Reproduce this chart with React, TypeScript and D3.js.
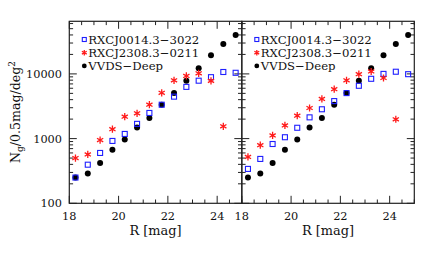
import * as d3 from "d3";

// magnitude bins (bin centres, 0.5 mag wide)
const magBins = [18.25, 18.75, 19.25, 19.75, 20.25, 20.75, 21.25, 21.75, 22.25, 22.75, 23.25, 23.75, 24.25, 24.75];

// VVDS-Deep reference counts (same in both panels)
const vvdsDeep = [250, 290, 420, 670, 970, 1480, 2090, 3350, 5050, 7850, 12200, 19500, 29000, 40000];

// left panel
const rxcj0014Left = [250, 395, 600, 920, 1180, 1690, 2490, 3340, 4450, 6300, 7850, 8900, 10700, 10400];
const rxcj2308Left = [500, 570, 950, 1400, 2180, 2460, 3340, 5100, 7950, 9300, 10200, 7800, 1550];

// right panel
const rxcj0014Right = [340, 485, 825, 1050, 1470, 2130, 2840, 3800, 5050, 6550, 8400, 10000, 10800, 9900];
const rxcj2308Right = [520, 790, 1120, 1600, 2260, 2970, 4100, 5800, 7950, 9900, 10900, 8640, 1990];

const legendLabels = ["RXCJ0014.3\u22123022", "RXCJ2308.3\u22120211", "VVDS\u2212Deep"];
const xTickLabels = [18, 20, 22, 24];
const yTickLabels = [100, 1000, 10000];

const W = 436, H = 258;
const top = 21.3, bottom = 203.3;
const font = "'DejaVu Serif', serif";
const frame = "#222";

const y = d3.scaleLog().domain([100, 65000]).range([bottom, top]);

const yMinor: number[] = [];
[100, 1000, 10000].forEach(dec => {
  for (let k = 1; k <= 9; k++) if (k * dec <= 65000) yMinor.push(k * dec);
});
const xMinor = d3.range(18, 25.01, 0.5);

const starPath = (r: number) => {
  const a = r * Math.cos(Math.PI / 6), b = r * Math.sin(Math.PI / 6);
  return `M0,${-r}L0,${r}M${-a},${-b}L${a},${b}M${-a},${b}L${a},${-b}`;
};

const Square = ({ cx, cy, s }: { cx: number; cy: number; s: number }) => (
  <rect x={cx - s / 2} y={cy - s / 2} width={s} height={s} fill="none" stroke="#1f1fff" strokeWidth={1.1} />
);
const Star = ({ cx, cy, r }: { cx: number; cy: number; r: number }) => (
  <path d={starPath(r)} transform={`translate(${cx},${cy})`} stroke="#ff1a1a" strokeWidth={1.3} fill="none" />
);

const Panel = ({ x0, x1, sq, st, showY }: { x0: number; x1: number; sq: number[]; st: number[]; showY: boolean }) => {
  const x = d3.scaleLinear().domain([18, 25]).range([x0, x1]);
  const isMajorX = (v: number) => Math.abs(v - Math.round(v)) < 1e-6 && Math.round(v) % 2 === 0 && v < 25;
  const isMajorY = (v: number) => yTickLabels.includes(v);
  const lx = x0 + 15, tx = x0 + 19;
  const rows = [39.5, 52.7, 65.9];
  return (
    <g>
      {/* x ticks bottom & top */}
      {xMinor.map(v => {
        const L = isMajorX(v) ? 7.5 : 3.8;
        return (
          <g key={"xt" + v} stroke={frame} strokeWidth={1}>
            <line x1={x(v)} x2={x(v)} y1={bottom} y2={bottom - L} />
            <line x1={x(v)} x2={x(v)} y1={top} y2={top + L} />
          </g>
        );
      })}
      {/* y ticks left & right */}
      {yMinor.map(v => {
        const L = isMajorY(v) ? 7.5 : 3.8;
        return (
          <g key={"yt" + v} stroke={frame} strokeWidth={1}>
            <line x1={x0} x2={x0 + L} y1={y(v)} y2={y(v)} />
            <line x1={x1} x2={x1 - L} y1={y(v)} y2={y(v)} />
          </g>
        );
      })}
      <rect x={x0} y={top} width={x1 - x0} height={bottom - top} fill="none" stroke={frame} strokeWidth={1.2} />

      {xTickLabels.map(v => (
        <text key={"xl" + v} x={x(v)} y={220} textAnchor="middle" fontSize={11.3} fontFamily={font} fill="#111">{v}</text>
      ))}
      {showY && yTickLabels.map(v => (
        <text key={"yl" + v} x={62} y={y(v)} dy="0.36em" textAnchor="end" fontSize={11.3} fontFamily={font} fill="#111">{v}</text>
      ))}
      <text x={(x0 + x1) / 2} y={235} textAnchor="middle" fontSize={12.9} fontFamily={font} fill="#111">R [mag]</text>

      {/* data */}
      {vvdsDeep.map((v, i) => (
        <circle key={"b" + i} cx={x(magBins[i])} cy={y(v)} r={3} fill="#000" />
      ))}
      {sq.map((v, i) => (
        <Square key={"s" + i} cx={x(magBins[i])} cy={y(v)} s={5} />
      ))}
      {st.map((v, i) => (
        <Star key={"r" + i} cx={x(magBins[i])} cy={y(v)} r={3.6} />
      ))}

      {/* legend */}
      <Square cx={lx} cy={rows[0]} s={4} />
      <Star cx={lx} cy={rows[1]} r={2.8} />
      <circle cx={lx} cy={rows[2]} r={2.4} fill="#000" />
      {legendLabels.map((t, i) => (
        <text key={"lg" + i} x={tx} y={rows[i]} dy="0.36em" fontSize={11.7} fontFamily={font} fill="#111">{t}</text>
      ))}
    </g>
  );
};

export default function App() {
  return (
    <div style={{ position: "fixed", left: 0, top: 0, width: W, height: H, background: "#fff" }}>
      <svg width={W} height={H} style={{ display: "block" }}>
        <rect width={W} height={H} fill="#fff" />
        <Panel x0={69.3} x1={241.8} sq={rxcj0014Left} st={rxcj2308Left} showY={true} />
        <Panel x0={241.8} x1={414.3} sq={rxcj0014Right} st={rxcj2308Right} showY={false} />
        <text transform="translate(19.5,112) rotate(-90)" textAnchor="middle" fontSize={12.6} fontFamily={font} fill="#111">
          N<tspan dy="3" fontSize={9}>g</tspan><tspan dy="-3">/0.5mag/deg</tspan><tspan dy="-5" fontSize={9}>2</tspan>
        </text>
      </svg>
    </div>
  );
}
